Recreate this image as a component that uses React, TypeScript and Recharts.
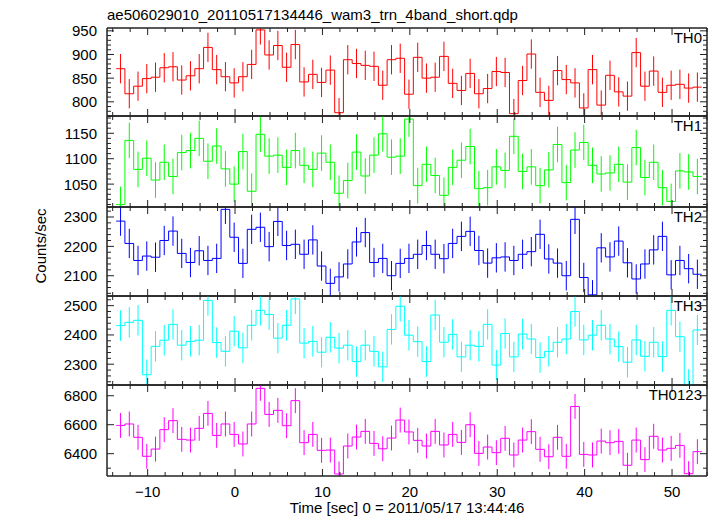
import React from 'react';
import { ComposedChart, Line, Scatter, ErrorBar, XAxis, YAxis, ReferenceArea } from 'recharts';

const TIME = [
  -13.1, -12.1, -11.1, -10.1, -9.1, -8.1, -7.1, -6.1, -5.1, -4.1,
  -3.1, -2.1, -1.1, -0.1, 0.9, 1.9, 2.9, 3.9, 4.9, 5.9,
  6.9, 7.9, 8.9, 9.9, 10.9, 11.9, 12.9, 13.9, 14.9, 15.9,
  16.9, 17.9, 18.9, 19.9, 20.9, 21.9, 22.9, 23.9, 24.9, 25.9,
  26.9, 27.9, 28.9, 29.9, 30.9, 31.9, 32.9, 33.9, 34.9, 35.9,
  36.9, 37.9, 38.9, 39.9, 40.9, 41.9, 42.9, 43.9, 44.9, 45.9,
  46.9, 47.9, 48.9, 49.9, 50.9, 51.9, 52.9,
];

const TH0 = [
  870, 817, 833, 849, 852, 872, 874, 846, 855, 870, 915, 868, 853, 840, 853, 879, 952, 899, 919, 873,
  921, 842, 858, 841, 867, 777, 889, 881, 877, 875, 835, 889, 892, 816,
  894, 850, 852, 896, 839, 824, 860, 817, 828, 864, 862, 775, 845, 901, 820, 803, 866, 847, 840, 787,
  868, 793, 856, 821, 812, 904, 833, 865, 820, 835, 837, 829, 831,
];
const TH1 = [
  1010, 1136, 1079, 1101, 1058, 1093, 1065, 1112, 1116, 1140, 1095, 1125, 1080, 1050, 1114, 1036, 1148, 1105, 1107, 1083,
  1116, 1087, 1079, 1111, 1093, 1032, 1057, 1113, 1066, 1107, 1149, 1103, 1105, 1178,
  1047, 1089, 1067, 1028, 1083, 1097, 1124, 1041, 1043, 1084, 1077, 1144, 1075, 1084, 1047, 1078, 1128, 1053, 1117, 1132,
  1087, 1070, 1072, 1089, 1054, 1122, 1063, 1093, 1043, 1016, 1076, 1074, 1065,
];
const TH2 = [
  2286, 2210, 2152, 2167, 2163, 2220, 2252, 2176, 2145, 2185, 2152, 2159, 2326, 2231, 2142, 2258, 2265, 2199, 2285, 2203,
  2207, 2173, 2222, 2133, 2074, 2096, 2140, 2215, 2247, 2145, 2159, 2100, 2142, 2159,
  2173, 2203, 2173, 2158, 2210, 2234, 2251, 2186, 2143, 2161, 2164, 2152, 2173, 2182, 2241, 2157, 2143, 2100, 2292, 2094,
  2035, 2195, 2164, 2218, 2144, 2089, 2140, 2188, 2234, 2103, 2152, 2124, 2105,
];
const TH3 = [
  2432, 2443, 2450, 2264, 2361, 2382, 2436, 2365, 2378, 2382, 2518, 2374, 2344, 2413, 2356, 2433, 2484, 2470, 2389, 2433,
  2523, 2372, 2378, 2341, 2392, 2355, 2365, 2309, 2365, 2344, 2291, 2419, 2498, 2399,
  2377, 2309, 2468, 2375, 2402, 2325, 2365, 2361, 2436, 2297, 2405, 2325, 2403, 2386, 2323, 2344, 2375, 2386, 2480, 2383,
  2399, 2433, 2386, 2360, 2307, 2383, 2327, 2375, 2326, 2484, 2394, 2231, 2417,
];
const TH0123 = [
  6595, 6605, 6513, 6382, 6432, 6566, 6628, 6499, 6494, 6575, 6678, 6526, 6605, 6533, 6467, 6605, 6851, 6671, 6699, 6593,
  6766, 6476, 6533, 6423, 6425, 6260, 6453, 6515, 6554, 6471, 6434, 6508, 6632, 6550,
  6492, 6453, 6554, 6460, 6533, 6478, 6600, 6402, 6446, 6407, 6506, 6391, 6494, 6552, 6430, 6379, 6513, 6382, 6726, 6395,
  6391, 6487, 6476, 6485, 6320, 6494, 6359, 6520, 6425, 6437, 6457, 6262, 6414,
];

// symmetric error half-widths, one per panel
const ERRORS = [31, 35, 50, 52, 86];

const X_DOMAIN: [number, number] = [-14.65, 54.0];
const X_TICKS = [-14, -12, -10, -8, -6, -4, -2, 0, 2, 4, 6, 8, 10, 12, 14, 16, 18, 20, 22, 24, 26, 28, 30, 32, 34, 36, 38, 40, 42, 44, 46, 48, 50, 52, 54];
const X_MAJOR = [-10, 0, 10, 20, 30, 40, 50];

const Y_MAJOR_TH0 = [800, 850, 900, 950];
const Y_MAJOR_TH1 = [1050, 1100, 1150];
const Y_MAJOR_TH2 = [2100, 2200, 2300];
const Y_MAJOR_TH3 = [2300, 2400, 2500];
const Y_MAJOR_TH0123 = [6400, 6600, 6800];

const LABELS = ['TH0', 'TH1', 'TH2', 'TH3', 'TH0123'];
const COLORS = ['#ff0000', '#00ff00', '#0000ff', '#00ffff', '#ff00ff'];

const FONT = '"Liberation Sans", Arial, Helvetica, sans-serif';
const FS = 15;
const PLOT_LEFT = 107;
const PLOT_RIGHT = 707;
const W = 717;
const FRAME = '#222';
const PAD = 10;

const fmt = (v: number) => (v < 0 ? '\u2212' + Math.abs(v) : String(v));

function minorTicks(domain: [number, number], step: number) {
  const out: number[] = [];
  let v = Math.ceil(domain[0] / step) * step;
  while (v <= domain[1] + 1e-9) {
    out.push(v);
    v += step;
  }
  return out;
}

const makeXTick = (dir: number, showLabel: boolean) => (props: any) => {
  const { x, y, payload } = props;
  const v = payload.value;
  const major = X_MAJOR.includes(v);
  const len = major ? 7 : 4;
  return (
    <g>
      <path d={`M${x},${y}L${x},${y + dir * len}`} stroke={FRAME} strokeWidth={1} fill="none" />
      {showLabel && major ? (
        <text x={x} y={y + 21} textAnchor="middle" fontSize={FS} fill="#000" fontFamily={FONT}>
          {fmt(v)}
        </text>
      ) : null}
    </g>
  );
};

const makeYTick = (dir: number, majors: number[], showLabel: boolean) => (props: any) => {
  const { x, y, payload } = props;
  const v = payload.value;
  const major = majors.includes(v);
  const len = major ? 7 : 4;
  return (
    <g>
      <path d={`M${x},${y}L${x + dir * len},${y}`} stroke={FRAME} strokeWidth={1} fill="none" />
      {showLabel && major ? (
        <text x={x - 10} y={y} dy="0.36em" textAnchor="end" fontSize={FS} fill="#000" fontFamily={FONT}>
          {fmt(v)}
        </text>
      ) : null}
    </g>
  );
};

const EmptyShape = () => <g />;

type PanelProps = {
  top: number;
  height: number;
  values: number[];
  err: number;
  color: string;
  domain: [number, number];
  majors: number[];
  minorStep: number;
  showXLabels: boolean;
};

function Panel({ top, height, values, err, color, domain, majors, minorStep, showXLabels }: PanelProps) {
  const bottomAxisH = showXLabels ? 40 : 1;
  const marginBottom = showXLabels ? 1 : PAD - 1;
  const [lo, hi] = domain;
  // error bars are cut at the frame, as in the reference
  const series = TIME.map((t, i) => {
    const v = values[i];
    const down = Math.max(0, v - Math.max(v - err, lo));
    const up = Math.max(0, Math.min(v + err, hi) - v);
    return { t, v, e: [down, up] };
  });
  const stepData = [
    { t: TIME[0] - 0.5, v: values[0] },
    ...series.map((d) => ({ t: d.t, v: d.v })),
    { t: TIME[TIME.length - 1] + 0.5, v: values[values.length - 1] },
  ];
  const yTicks = minorTicks(domain, minorStep);
  const chartH = PAD + height + bottomAxisH + marginBottom;
  return (
    <div style={{ position: 'absolute', left: 0, top: top - PAD, width: W, height: chartH }}>
      <ComposedChart
        width={W}
        height={chartH}
        margin={{ top: PAD - 1, right: W - PLOT_RIGHT - 1, bottom: marginBottom, left: 0 }}
      >
        <XAxis
          xAxisId="b"
          dataKey="t"
          type="number"
          orientation="bottom"
          domain={X_DOMAIN}
          allowDataOverflow
          ticks={X_TICKS}
          interval={0}
          tickSize={0}
          tickMargin={0}
          height={bottomAxisH}
          tickLine={false}
          axisLine={{ stroke: FRAME, strokeWidth: 1 }}
          tick={makeXTick(-1, showXLabels)}
        />
        <XAxis
          xAxisId="t"
          dataKey="t"
          type="number"
          orientation="top"
          domain={X_DOMAIN}
          allowDataOverflow
          ticks={X_TICKS}
          interval={0}
          tickSize={0}
          tickMargin={0}
          height={1}
          tickLine={false}
          axisLine={{ stroke: FRAME, strokeWidth: 1 }}
          tick={makeXTick(1, false)}
        />
        <YAxis
          yAxisId="l"
          type="number"
          orientation="left"
          domain={domain}
          allowDataOverflow
          ticks={yTicks}
          interval={0}
          tickSize={0}
          tickMargin={0}
          width={PLOT_LEFT}
          tickLine={false}
          axisLine={{ stroke: FRAME, strokeWidth: 1 }}
          tick={makeYTick(1, majors, true)}
        />
        <YAxis
          yAxisId="r"
          type="number"
          orientation="right"
          domain={domain}
          allowDataOverflow
          ticks={yTicks}
          interval={0}
          tickSize={0}
          tickMargin={0}
          width={1}
          tickLine={false}
          axisLine={{ stroke: FRAME, strokeWidth: 1 }}
          tick={makeYTick(-1, majors, false)}
        />
        <ReferenceArea
          xAxisId="b"
          yAxisId="l"
          x1={X_DOMAIN[0]}
          x2={X_DOMAIN[1]}
          y1={domain[0]}
          y2={domain[1]}
          fill="none"
          fillOpacity={0}
          stroke={FRAME}
          strokeWidth={1}
          ifOverflow="visible"
        />
        <Line
          xAxisId="b"
          yAxisId="l"
          data={stepData}
          dataKey="v"
          type="step"
          stroke={color}
          strokeWidth={1}
          dot={false}
          activeDot={false}
          isAnimationActive={false}
        />
        <Scatter
          xAxisId="b"
          yAxisId="l"
          data={series}
          dataKey="v"
          shape={EmptyShape}
          isAnimationActive={false}
        >
          <ErrorBar dataKey="e" direction="y" width={0} stroke={color} strokeWidth={1} isAnimationActive={false} />
        </Scatter>
      </ComposedChart>
    </div>
  );
}

const PANEL_TOPS = [28, 116, 207, 296, 385];
const PANEL_HEIGHTS = [88, 91, 89, 89, 91];
const DOMAINS: [number, number][] = [
  [770, 956],
  [1005, 1184],
  [2031, 2334],
  [2229, 2533],
  [6246, 6874],
];
const MAJORS = [Y_MAJOR_TH0, Y_MAJOR_TH1, Y_MAJOR_TH2, Y_MAJOR_TH3, Y_MAJOR_TH0123];
const MINOR_STEPS = [10, 10, 20, 20, 100];
const VALUES = [TH0, TH1, TH2, TH3, TH0123];

export default function App() {
  return (
    <div
      style={{
        position: 'absolute',
        left: 0,
        top: 0,
        width: W,
        height: 516,
        background: '#fff',
        fontFamily: FONT,
        overflow: 'hidden',
      }}
    >
      {VALUES.map((vals, i) => (
        <Panel
          key={LABELS[i]}
          top={PANEL_TOPS[i]}
          height={PANEL_HEIGHTS[i]}
          values={vals}
          err={ERRORS[i]}
          color={COLORS[i]}
          domain={DOMAINS[i]}
          majors={MAJORS[i]}
          minorStep={MINOR_STEPS[i]}
          showXLabels={i === VALUES.length - 1}
        />
      ))}
      <svg
        width={W}
        height={516}
        style={{ position: 'absolute', left: 0, top: 0, pointerEvents: 'none' }}
        fontFamily={FONT}
      >
        <text x={PLOT_LEFT} y={20} fontSize={FS} fill="#000">
          ae506029010_20110517134446_wam3_trn_4band_short.qdp
        </text>
        {LABELS.map((lab, i) => (
          <text key={lab} x={702} y={PANEL_TOPS[i] + 15} fontSize={FS} fill="#000" textAnchor="end">
            {lab}
          </text>
        ))}
        <text
          x={41}
          y={246}
          fontSize={FS}
          fill="#000"
          textAnchor="middle"
          dy="0.36em"
          transform="rotate(-90 41 246)"
        >
          Counts/sec
        </text>
        <text x={(PLOT_LEFT + PLOT_RIGHT) / 2} y={513} fontSize={FS} fill="#000" textAnchor="middle">
          Time [sec] 0 = 2011/05/17 13:44:46
        </text>
      </svg>
    </div>
  );
}
